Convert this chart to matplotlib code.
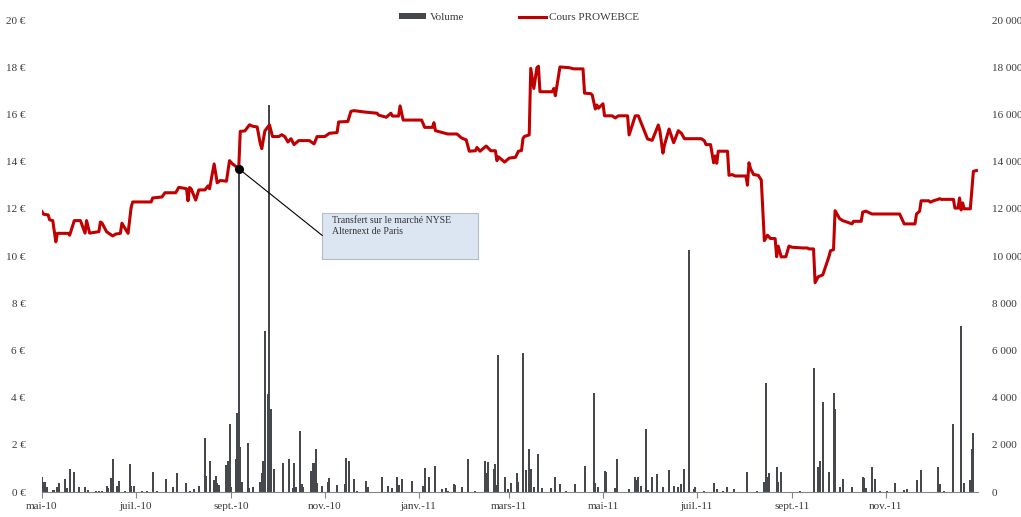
import numpy as np
import pandas as pd
import matplotlib
matplotlib.use('Agg')
import matplotlib.pyplot as plt
import matplotlib.dates as mdates
from matplotlib.patches import Rectangle
from matplotlib.ticker import FuncFormatter

plt.rcParams['font.family'] = ['Liberation Serif', 'DejaVu Serif']

# share price (EUR), vertices
price_dates = [
    '2010-05-01', '2010-05-02', '2010-05-05', '2010-05-06', '2010-05-08', '2010-05-10',
    '2010-05-11', '2010-05-18', '2010-05-19', '2010-05-22', '2010-05-26', '2010-05-29',
    '2010-05-30', '2010-06-01', '2010-06-07', '2010-06-08', '2010-06-09', '2010-06-12',
    '2010-06-16', '2010-06-18', '2010-06-21', '2010-06-22', '2010-06-26', '2010-06-28',
    '2010-06-29', '2010-07-11', '2010-07-12', '2010-07-18', '2010-07-20', '2010-07-27',
    '2010-07-29', '2010-08-03', '2010-08-04', '2010-08-05', '2010-08-06', '2010-08-09',
    '2010-08-11', '2010-08-15', '2010-08-17', '2010-08-18', '2010-08-21', '2010-08-23',
    '2010-08-25', '2010-08-29', '2010-08-31', '2010-09-02', '2010-09-06', '2010-09-07',
    '2010-09-10', '2010-09-13', '2010-09-15', '2010-09-18', '2010-09-20', '2010-09-21',
    '2010-09-23', '2010-09-26', '2010-09-28', '2010-10-02', '2010-10-04', '2010-10-06',
    '2010-10-08', '2010-10-10', '2010-10-12', '2010-10-15', '2010-10-22', '2010-10-25',
    '2010-10-27', '2010-11-01', '2010-11-04', '2010-11-09', '2010-11-10', '2010-11-16',
    '2010-11-18', '2010-11-20', '2010-11-27', '2010-12-05', '2010-12-06', '2010-12-11',
    '2010-12-14', '2010-12-15', '2010-12-19', '2010-12-20', '2010-12-22', '2011-01-03',
    '2011-01-05', '2011-01-10', '2011-01-11', '2011-01-12', '2011-01-17', '2011-01-20',
    '2011-01-26', '2011-01-29', '2011-02-01', '2011-02-03', '2011-02-07', '2011-02-08',
    '2011-02-10', '2011-02-14', '2011-02-17', '2011-02-20', '2011-02-21', '2011-02-22',
    '2011-02-26', '2011-03-01', '2011-03-05', '2011-03-07', '2011-03-09', '2011-03-10',
    '2011-03-11', '2011-03-14', '2011-03-15', '2011-03-17', '2011-03-19', '2011-03-20',
    '2011-03-21', '2011-03-29', '2011-03-30', '2011-03-31', '2011-04-03', '2011-04-09',
    '2011-04-12', '2011-04-18', '2011-04-19', '2011-04-23', '2011-04-24', '2011-04-26',
    '2011-04-27', '2011-04-28', '2011-05-01', '2011-05-02', '2011-05-07', '2011-05-09',
    '2011-05-11', '2011-05-17', '2011-05-18', '2011-05-22', '2011-05-24', '2011-05-30',
    '2011-06-02', '2011-06-06', '2011-06-07', '2011-06-09', '2011-06-10', '2011-06-13',
    '2011-06-16', '2011-06-19', '2011-06-21', '2011-06-23', '2011-07-04', '2011-07-06',
    '2011-07-07', '2011-07-10', '2011-07-12', '2011-07-13', '2011-07-14', '2011-07-15',
    '2011-07-21', '2011-07-22', '2011-07-24', '2011-07-26', '2011-08-02', '2011-08-03',
    '2011-08-04', '2011-08-05', '2011-08-07', '2011-08-10', '2011-08-12', '2011-08-14',
    '2011-08-16', '2011-08-18', '2011-08-21', '2011-08-22', '2011-08-23', '2011-08-25',
    '2011-08-28', '2011-08-30', '2011-09-01', '2011-09-08', '2011-09-11', '2011-09-12',
    '2011-09-15', '2011-09-16', '2011-09-18', '2011-09-21', '2011-09-25', '2011-09-26',
    '2011-09-28', '2011-09-29', '2011-10-02', '2011-10-04', '2011-10-08', '2011-10-10',
    '2011-10-11', '2011-10-16', '2011-10-17', '2011-10-19', '2011-10-23', '2011-11-10',
    '2011-11-13', '2011-11-20', '2011-11-21', '2011-11-23', '2011-11-24', '2011-11-29',
    '2011-11-30', '2011-12-02', '2011-12-05', '2011-12-06', '2011-12-07', '2011-12-15',
    '2011-12-16', '2011-12-18', '2011-12-19', '2011-12-20', '2011-12-21', '2011-12-22',
    '2011-12-26', '2011-12-28', '2011-12-30',
]
price_values = [
    11.88, 11.77, 11.74, 11.53, 11.50, 10.60,
    10.96, 10.96, 10.88, 11.50, 11.50, 10.97,
    11.50, 10.97, 11.03, 11.44, 11.40, 11.03,
    10.85, 10.93, 10.96, 11.39, 10.96, 12.06,
    12.29, 12.29, 12.46, 12.50, 12.68, 12.68,
    12.91, 12.85, 12.34, 12.90, 12.85, 12.37,
    12.80, 12.80, 12.97, 12.85, 13.90, 13.10,
    13.20, 13.17, 14.04, 13.90, 13.70, 15.28,
    15.30, 15.56, 15.50, 15.47, 14.77, 14.55,
    15.30, 15.56, 15.06, 15.06, 15.14, 15.06,
    14.83, 14.97, 14.72, 14.89, 14.89, 14.75,
    15.06, 15.06, 15.20, 15.23, 15.68, 15.70,
    16.13, 16.16, 16.10, 16.05, 15.97, 15.88,
    16.05, 15.93, 15.93, 16.36, 15.76, 15.76,
    15.45, 15.45, 15.65, 15.31, 15.22, 15.17,
    15.17, 15.00, 14.92, 14.44, 14.46, 14.60,
    14.44, 14.66, 14.46, 14.46, 14.04, 14.20,
    13.98, 14.15, 14.18, 14.44, 14.47, 14.99,
    15.07, 15.13, 17.95, 17.10, 17.98, 18.04,
    16.96, 16.96, 17.10, 16.79, 18.01, 17.98,
    17.93, 17.93, 16.90, 16.88, 16.82, 16.23,
    16.40, 16.26, 16.45, 15.94, 15.94, 15.85,
    15.94, 15.94, 15.13, 15.94, 15.94, 14.96,
    14.90, 15.55, 15.30, 14.36, 14.70, 15.38,
    14.80, 15.31, 15.20, 14.97, 14.97, 14.88,
    14.72, 14.72, 13.95, 14.24, 13.93, 14.44,
    14.44, 13.42, 13.45, 13.39, 13.39, 13.00,
    13.95, 13.70, 13.45, 13.42, 13.22, 10.65,
    10.88, 10.74, 10.74, 9.97, 10.42, 9.96,
    9.97, 10.42, 10.37, 10.34, 10.34, 10.30,
    10.30, 8.87, 9.12, 9.20, 9.97, 10.22,
    10.27, 11.92, 11.58, 11.50, 11.41, 11.36,
    11.47, 11.47, 11.86, 11.90, 11.78, 11.78,
    11.36, 11.36, 11.78, 11.90, 12.34, 12.34,
    12.28, 12.34, 12.40, 12.43, 12.40, 12.40,
    12.03, 12.03, 12.46, 11.95, 12.25, 12.00,
    12.00, 13.59, 13.62,
]

# daily traded volume (shares)
volume_dates = [
    '2010-05-01', '2010-05-02', '2010-05-03', '2010-05-04', '2010-05-08', '2010-05-09',
    '2010-05-11', '2010-05-12', '2010-05-16', '2010-05-17', '2010-05-19', '2010-05-22',
    '2010-05-25', '2010-05-29', '2010-05-31', '2010-06-05', '2010-06-07', '2010-06-09',
    '2010-06-12', '2010-06-13', '2010-06-15', '2010-06-16', '2010-06-19', '2010-06-20',
    '2010-06-24', '2010-06-27', '2010-06-28', '2010-06-30', '2010-07-05', '2010-07-08',
    '2010-07-12', '2010-07-15', '2010-07-21', '2010-07-25', '2010-07-28', '2010-08-03',
    '2010-08-05', '2010-08-08', '2010-08-11', '2010-08-15', '2010-08-16', '2010-08-18',
    '2010-08-21', '2010-08-22', '2010-08-23', '2010-08-24', '2010-08-29', '2010-08-30',
    '2010-08-31', '2010-09-01', '2010-09-04', '2010-09-05', '2010-09-06', '2010-09-07',
    '2010-09-08', '2010-09-12', '2010-09-13', '2010-09-15', '2010-09-20', '2010-09-21',
    '2010-09-22', '2010-09-23', '2010-09-25', '2010-09-26', '2010-09-27', '2010-09-29',
    '2010-10-05', '2010-10-09', '2010-10-11', '2010-10-12', '2010-10-13', '2010-10-16',
    '2010-10-17', '2010-10-18', '2010-10-23', '2010-10-24', '2010-10-25', '2010-10-26',
    '2010-10-27', '2010-10-30', '2010-11-03', '2010-11-04', '2010-11-09', '2010-11-14',
    '2010-11-15', '2010-11-17', '2010-11-20', '2010-11-22', '2010-11-28', '2010-11-29',
    '2010-12-08', '2010-12-12', '2010-12-15', '2010-12-18', '2010-12-19', '2010-12-21',
    '2010-12-28', '2011-01-04', '2011-01-05', '2011-01-08', '2011-01-12', '2011-01-16',
    '2011-01-19', '2011-01-20', '2011-01-24', '2011-01-25', '2011-01-29', '2011-02-02',
    '2011-02-07', '2011-02-13', '2011-02-14', '2011-02-15', '2011-02-19', '2011-02-20',
    '2011-02-21', '2011-02-22', '2011-02-26', '2011-02-28', '2011-03-02', '2011-03-06',
    '2011-03-07', '2011-03-10', '2011-03-12', '2011-03-14', '2011-03-15', '2011-03-17',
    '2011-03-20', '2011-03-22', '2011-03-28', '2011-03-31', '2011-04-03', '2011-04-07',
    '2011-04-13', '2011-04-19', '2011-04-25', '2011-04-26', '2011-04-28', '2011-05-02',
    '2011-05-03', '2011-05-09', '2011-05-10', '2011-05-18', '2011-05-22', '2011-05-23',
    '2011-05-24', '2011-05-26', '2011-05-29', '2011-05-30', '2011-06-02', '2011-06-05',
    '2011-06-09', '2011-06-13', '2011-06-16', '2011-06-19', '2011-06-21', '2011-06-23',
    '2011-06-26', '2011-06-29', '2011-06-30', '2011-07-06', '2011-07-12', '2011-07-14',
    '2011-07-18', '2011-07-21', '2011-07-25', '2011-08-03', '2011-08-09', '2011-08-14',
    '2011-08-15', '2011-08-16', '2011-08-17', '2011-08-22', '2011-08-23', '2011-08-25',
    '2011-09-06', '2011-09-15', '2011-09-18', '2011-09-19', '2011-09-21', '2011-09-25',
    '2011-09-28', '2011-09-29', '2011-10-02', '2011-10-04', '2011-10-10', '2011-10-17',
    '2011-10-18', '2011-10-19', '2011-10-23', '2011-10-25', '2011-10-28', '2011-11-02',
    '2011-11-07', '2011-11-13', '2011-11-15', '2011-11-21', '2011-11-24', '2011-12-05',
    '2011-12-06', '2011-12-09', '2011-12-15', '2011-12-20', '2011-12-22', '2011-12-26',
    '2011-12-27', '2011-12-28',
]
volume_values = [
    620, 440, 440, 230, 85, 85,
    230, 370, 540, 155, 960, 860,
    230, 200, 85, 30, 30, 30,
    250, 155, 580, 1380, 250, 480,
    40, 1190, 270, 270, 30, 40,
    860, 40, 540, 200, 820, 400,
    50, 115, 250, 2290, 680, 1300,
    510, 680, 400, 300, 1160, 1300,
    2880, 230, 1380, 3360, 13650, 1920,
    440, 2090, 155, 200, 420, 820,
    1300, 6830, 4150, 16400, 3500, 960,
    1210, 1380, 155, 1240, 230, 2600,
    340, 230, 900, 1240, 1210, 1840,
    400, 250, 440, 580, 300, 340,
    1440, 1330, 565, 40, 450, 200,
    620, 250, 170, 650, 280, 540,
    450, 250, 1000, 650, 1100, 140,
    170, 40, 340, 280, 230, 1380,
    56, 1330, 790, 1270, 960, 1190,
    280, 5800, 650, 113, 370, 820,
    440, 5900, 930, 1840, 960, 200,
    1610, 170, 155, 620, 340, 40,
    340, 1100, 4200, 370, 230, 880,
    850, 155, 1410, 113, 650, 510,
    650, 250, 2650, 85, 650, 760,
    230, 930, 250, 200, 340, 960,
    10250, 140, 200, 40, 400, 113,
    50, 200, 140, 850, 40, 420,
    4600, 650, 820, 1045, 420, 850,
    40, 5240, 1045, 1300, 3810, 850,
    4180, 3500, 200, 565, 200, 650,
    590, 170, 1070, 540, 40, 40,
    370, 85, 140, 510, 930, 1070,
    340, 40, 2880, 7030, 370, 510,
    1810, 2510,
]

# transfer to NYSE Alternext
event_date = '2010-09-06'
event_price = 13.70
event_text = 'Transfert sur le marché NYSE\nAlternext de Paris'

tick_dates = ['2010-05-01', '2010-07-01', '2010-09-01', '2010-11-01', '2011-01-01',
              '2011-03-01', '2011-05-01', '2011-07-01', '2011-09-01', '2011-11-01']
tick_labels = ['mai-10', 'juil.-10', 'sept.-10', 'nov.-10', 'janv.-11',
               'mars-11', 'mai-11', 'juil.-11', 'sept.-11', 'nov.-11']

red = '#c00000'
bar_col = '#45484d'
txt_col = '#3a3a3a'

fig = plt.figure(figsize=(10.21, 5.17), dpi=100)
ax = fig.add_axes([42 / 1021, 25 / 517, 936 / 1021, 472 / 517])
ax2 = ax.twinx()
ax.set_zorder(ax2.get_zorder() + 1)
ax.patch.set_visible(False)

vd = pd.to_datetime(volume_dates)
ax2.bar(vd, volume_values, width=1.3, color=bar_col, linewidth=0, label='Volume')
pd_ = pd.to_datetime(price_dates)
ax.plot(pd_, price_values, color=red, lw=2.2, solid_joinstyle='round', label='Cours PROWEBCE')
ax.plot(pd.to_datetime([event_date]), [event_price], 'o', color='black', ms=5.5, zorder=5)

ax.set_xlim(pd.Timestamp('2010-05-01'), pd.Timestamp('2011-12-31'))
ax.set_ylim(0, 20)
ax2.set_ylim(0, 20000)
ax.set_yticks(np.arange(0, 21, 2))
ax2.set_yticks(np.arange(0, 20001, 2000))
ax.yaxis.set_major_formatter(FuncFormatter(lambda v, p: '%d €' % v))
ax2.yaxis.set_major_formatter(FuncFormatter(
    lambda v, p: '{:,}'.format(int(v)).replace(',', ' ')))

ax.set_xticks(pd.to_datetime(tick_dates))
ax.set_xticklabels(tick_labels)

for a in (ax, ax2):
    for s in a.spines.values():
        s.set_visible(False)
ax.spines['bottom'].set_visible(True)
ax.spines['bottom'].set_color('#868686')
ax.spines['bottom'].set_linewidth(0.8)
ax.tick_params(axis='x', length=4, color='#868686', labelsize=8, labelcolor=txt_col, pad=3)
ax.tick_params(axis='y', length=0, labelsize=8, labelcolor=txt_col, pad=12)
ax2.tick_params(axis='y', length=0, labelsize=8, labelcolor=txt_col, pad=10)

# annotation box
box = Rectangle((0.2995, 0.4936), 0.1668, 0.0975, transform=ax.transAxes,
                facecolor='#dce6f2', edgecolor='#b4bcc8', linewidth=0.8, zorder=6)
ax.add_patch(box)
ax.text(0.3095, 0.585, event_text, transform=ax.transAxes, fontsize=7,
        color='#333333', va='top', ha='left', linespacing=1.35, zorder=7)
ax.annotate('', xy=(pd.Timestamp(event_date), event_price), xycoords='data',
            xytext=(0.2995, 0.5434), textcoords='axes fraction',
            arrowprops=dict(arrowstyle='-', color='black', lw=0.8, shrinkA=0, shrinkB=0),
            zorder=6)

h1, l1 = ax2.get_legend_handles_labels()
h2, l2 = ax.get_legend_handles_labels()
leg = ax.legend(h1 + h2, l1 + l2, loc='center', bbox_to_anchor=(0.51, 1.005),
                ncol=2, frameon=False, fontsize=8, handlelength=2.4,
                handleheight=0.5, columnspacing=5.0, handletextpad=0.3)
for t in leg.get_texts():
    t.set_color(txt_col)

fig.savefig('out.png', dpi=100)
